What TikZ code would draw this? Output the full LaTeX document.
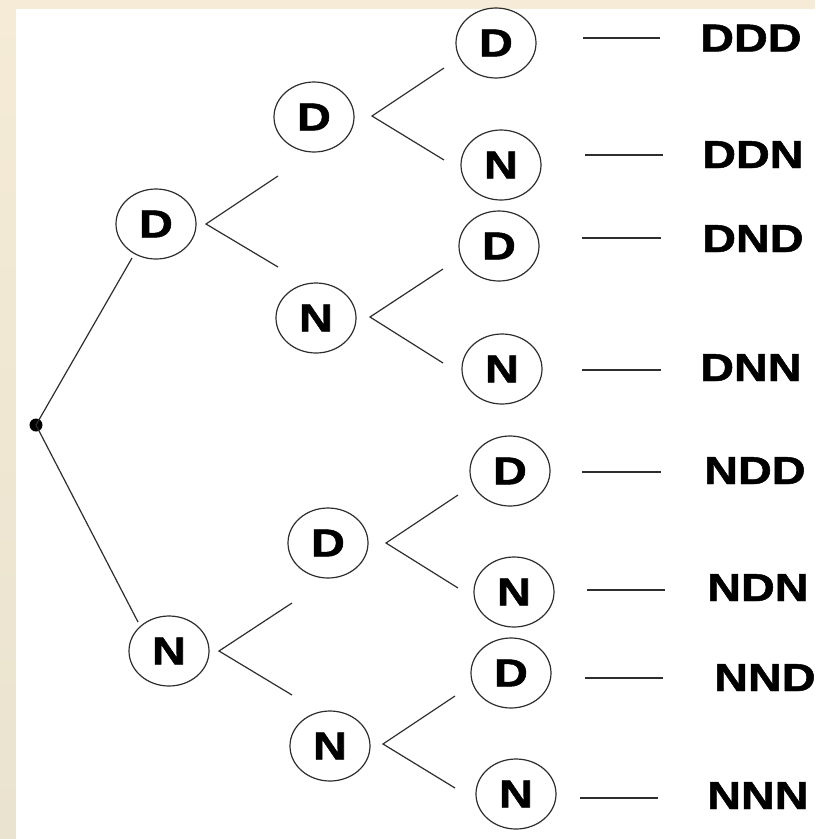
\documentclass[tikz,border=0pt]{standalone}
\usepackage{fontspec}
\setmainfont{Liberation Sans}
\newfontfamily\heavyfont{Liberation Sans Bold}[FakeBold=1.2]
\usetikzlibrary{shapes.geometric}
\definecolor{beigetop}{HTML}{F5EBD6}
\definecolor{beigebot}{HTML}{EAE3CF}
\definecolor{ink}{HTML}{2E2E2E}
\newcommand{\bigtxt}[1]{\scalebox{1.2}[1]{\fontsize{39}{39}\heavyfont #1}}
\begin{document}
\begin{tikzpicture}[x=1pt,y=-1pt,
  oval/.style={ellipse, draw=ink, line width=1.2pt, minimum width=80pt, minimum height=70pt, inner sep=0pt},
  branch/.style={draw=ink, line width=1.2pt},
  result/.style={anchor=base west, inner sep=0pt}]
\useasboundingbox (0,0) rectangle (815,839);
% background
\fill[beigetop] (0,0) rectangle (815,9);
\shade[top color=beigetop, bottom color=beigebot] (0,0) rectangle (16,839);
\fill[white] (16,9) rectangle (815,839);

% root
\coordinate (root) at (36,425);
\fill[black] (root) circle (6.5pt);

% nodes
\node[oval] (D1) at (156,224) {\bigtxt{D}};
\node[oval] (N1) at (169,651) {\bigtxt{N}};
\node[oval] (DD) at (314,117) {\bigtxt{D}};
\node[oval] (DN) at (316,318) {\bigtxt{N}};
\node[oval] (ND) at (328,543) {\bigtxt{D}};
\node[oval] (NN) at (330,746) {\bigtxt{N}};
\node[oval] (DDD) at (496,43) {\bigtxt{D}};
\node[oval] (DDN) at (501,165) {\bigtxt{N}};
\node[oval] (DND) at (499,246) {\bigtxt{D}};
\node[oval] (DNN) at (502,369) {\bigtxt{N}};
\node[oval] (NDD) at (510,471) {\bigtxt{D}};
\node[oval] (NDN) at (514,592) {\bigtxt{N}};
\node[oval] (NND) at (511,673) {\bigtxt{D}};
\node[oval] (NNN) at (516,794) {\bigtxt{N}};

% root branches
\coordinate (r1) at (132,258);
\coordinate (r2) at (138,622);
\draw[branch] (r1) -- (root) -- (r2);

% level-1 branches
\coordinate (d1a) at (278,176); \coordinate (d1v) at (206,224); \coordinate (d1b) at (278,267);
\draw[branch] (d1a) -- (d1v) -- (d1b);
\coordinate (n1a) at (292,603); \coordinate (n1v) at (219,651); \coordinate (n1b) at (292,695);
\draw[branch] (n1a) -- (n1v) -- (n1b);

% level-2 branches
\coordinate (dda) at (444,68); \coordinate (ddv) at (372,116); \coordinate (ddb) at (444,160);
\draw[branch] (dda) -- (ddv) -- (ddb);
\coordinate (dna) at (443,269); \coordinate (dnv) at (370,317); \coordinate (dnb) at (443,363);
\draw[branch] (dna) -- (dnv) -- (dnb);
\coordinate (nda) at (458,495); \coordinate (ndv) at (386,543); \coordinate (ndb) at (458,588);
\draw[branch] (nda) -- (ndv) -- (ndb);
\coordinate (nna) at (455,696); \coordinate (nnv) at (383,744); \coordinate (nnb) at (455,788);
\draw[branch] (nna) -- (nnv) -- (nnb);

% result labels
\node[result] (tDDD) at (700,51.5) {\bigtxt{DDD}};
\node[result] (tDDN) at (702,168) {\bigtxt{DDN}};
\node[result] (tDND) at (702,252) {\bigtxt{DND}};
\node[result] (tDNN) at (700,381) {\bigtxt{DNN}};
\node[result] (tNDD) at (704,484) {\bigtxt{NDD}};
\node[result] (tNDN) at (707,601) {\bigtxt{NDN}};
\node[result] (tNND) at (714,691) {\bigtxt{NND}};
\node[result] (tNNN) at (707,809) {\bigtxt{NNN}};

% dashes to labels
\foreach \n/\xa/\xb/\yy in {DDD/583/660/38, DDN/585/663/155, DND/582/661/238, DNN/582/661/370,
                            NDD/582/661/472, NDN/587/665/590, NND/585/663/678, NNN/580/658/798}{
  \coordinate (a\n) at (\xa,\yy);
  \coordinate (b\n) at (\xb,\yy);
  \draw[branch] (a\n) -- (b\n);
}
\end{tikzpicture}
\end{document}
